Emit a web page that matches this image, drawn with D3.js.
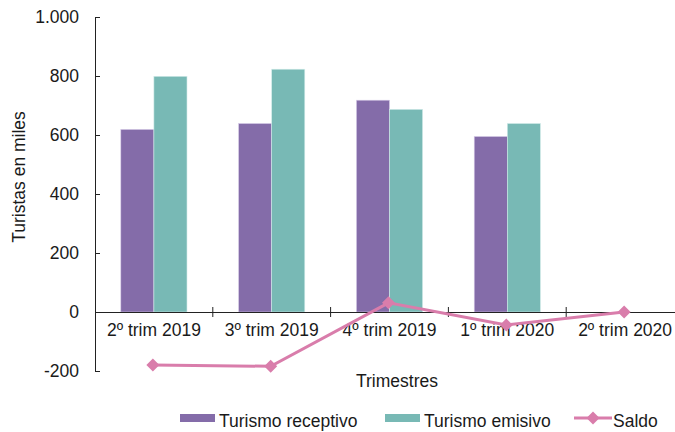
<!DOCTYPE html>
<html>
<head>
<meta charset="utf-8">
<script src="https://cdn.jsdelivr.net/npm/d3@7"></script>
<style>
  body { margin: 0; background: #fff; }
  svg { font-family: "Liberation Sans", Arial, sans-serif; }
</style>
</head>
<body>
<div id="container"></div>
<script>
// data (thousands of tourists)
var categories = ['2º trim 2019', '3º trim 2019', '4º trim 2019', '1º trim 2020', '2º trim 2020'];
var receptivo = [619, 639, 718, 595, 0];
var emisivo = [799, 823, 687, 639, 0];
var saldo = [-180, -184, 31, -44, 0];
var yTicks = [-200, 0, 200, 400, 600, 800, 1000];
var seriesNames = ['Turismo receptivo', 'Turismo emisivo', 'Saldo'];

var w = 675, h = 432;
var colors = {rec: '#846ca9', emi: '#78b9b5', saldo: '#d97dab'};
var fs = '17.5px';

var svg = d3.select('div#container')
    .append('svg')
    .attr('width', w)
    .attr('height', h);

var locale = d3.formatLocale({decimal: ',', thousands: '.', grouping: [3], currency: ['', '€'], minus: '-'});
var fmt = locale.format(',d');

// scales
var x = d3.scaleBand().domain(categories).range([95, 684]).paddingInner(0).paddingOuter(0);
var xSub = d3.scaleBand().domain(['rec', 'emi']).range([0, x.bandwidth()]).paddingOuter(0.78).paddingInner(0);
var y = d3.scaleLinear().domain([-200, 1000]).range([371, 17]);

// y axis
var yAxis = svg.append('g')
    .attr('transform', 'translate(95,0)')
    .call(d3.axisLeft(y).tickValues(yTicks).tickFormat(fmt).tickSizeInner(6).tickSizeOuter(0).tickPadding(10));
yAxis.select('.domain').attr('stroke', '#222');
yAxis.selectAll('.tick line').attr('x2', 5).attr('stroke', '#222');
yAxis.selectAll('.tick text').style('font-size', fs).attr('fill', '#1a1a1a');

// bars
var groups = svg.selectAll('g.cat')
    .data(categories)
    .enter()
    .append('g')
    .attr('class', 'cat')
    .attr('transform', function(d) { return 'translate(' + x(d) + ',0)'; });

groups.append('rect')
    .attr('x', xSub('rec'))
    .attr('width', xSub.bandwidth())
    .attr('y', function(d, i) { return y(receptivo[i]); })
    .attr('height', function(d, i) { return y(0) - y(receptivo[i]); })
    .attr('fill', colors.rec)
    .attr('stroke', '#d8cde8').attr('stroke-width', 0.6);

groups.append('rect')
    .attr('x', xSub('emi'))
    .attr('width', xSub.bandwidth())
    .attr('y', function(d, i) { return y(emisivo[i]); })
    .attr('height', function(d, i) { return y(0) - y(emisivo[i]); })
    .attr('fill', colors.emi)
    .attr('stroke', '#d3ebe9').attr('stroke-width', 0.6);

// x axis at zero
var xAxis = svg.append('g')
    .attr('transform', 'translate(0,' + y(0) + ')')
    .call(d3.axisBottom(x).tickSize(0).tickPadding(12));
xAxis.select('.domain').attr('stroke', '#222');
xAxis.selectAll('.tick text').style('font-size', fs).attr('fill', '#1a1a1a');

// boundary ticks between categories
xAxis.selectAll('line.sep')
    .data(categories.slice(1))
    .enter()
    .append('line')
    .attr('class', 'sep')
    .attr('x1', function(d) { return x(d); })
    .attr('x2', function(d) { return x(d); })
    .attr('y1', -5)
    .attr('y2', 5)
    .attr('stroke', '#222');

// saldo line
var cx = function(i) { return x(categories[i]) + x.bandwidth() / 2 - 1; };
var line = d3.line()
    .x(function(d, i) { return cx(i); })
    .y(function(d) { return y(d); });

svg.append('path')
    .datum(saldo)
    .attr('d', line)
    .attr('fill', 'none')
    .attr('stroke', colors.saldo)
    .attr('stroke-width', 3);

// square diamond marker
var diamond = 'M0,-6.5L6.5,0L0,6.5L-6.5,0Z';
svg.selectAll('path.mark')
    .data(saldo)
    .enter()
    .append('path')
    .attr('class', 'mark')
    .attr('d', diamond)
    .attr('transform', function(d, i) { return 'translate(' + cx(i) + ',' + y(d) + ')'; })
    .attr('fill', colors.saldo);

// axis titles
svg.append('text')
    .attr('x', 397).attr('y', 387)
    .attr('text-anchor', 'middle')
    .style('font-size', fs).attr('fill', '#1a1a1a')
    .text('Trimestres');

svg.append('text')
    .attr('transform', 'translate(25,177) rotate(-90)')
    .attr('text-anchor', 'middle')
    .style('font-size', fs).attr('fill', '#1a1a1a')
    .text('Turistas en miles');

// legend
var legendX = [180, 385, 574];
var legend = svg.selectAll('g.leg')
    .data(seriesNames)
    .enter()
    .append('g')
    .attr('class', 'leg')
    .attr('transform', function(d, i) { return 'translate(' + legendX[i] + ',421)'; });

legend.each(function(d, i) {
    var g = d3.select(this);
    if (i < 2) {
        g.append('rect').attr('x', 0).attr('y', -7).attr('width', 35).attr('height', 8)
            .attr('fill', i === 0 ? colors.rec : colors.emi);
    } else {
        g.append('line').attr('x1', 0).attr('x2', 38).attr('y1', -3).attr('y2', -3)
            .attr('stroke', colors.saldo).attr('stroke-width', 3);
        g.append('path').attr('d', diamond).attr('transform', 'translate(19,-3)').attr('fill', colors.saldo);
    }
    g.append('text').attr('x', 39).attr('y', 6).style('font-size', fs).attr('fill', '#1a1a1a').text(d);
});
</script>
</body>
</html>
